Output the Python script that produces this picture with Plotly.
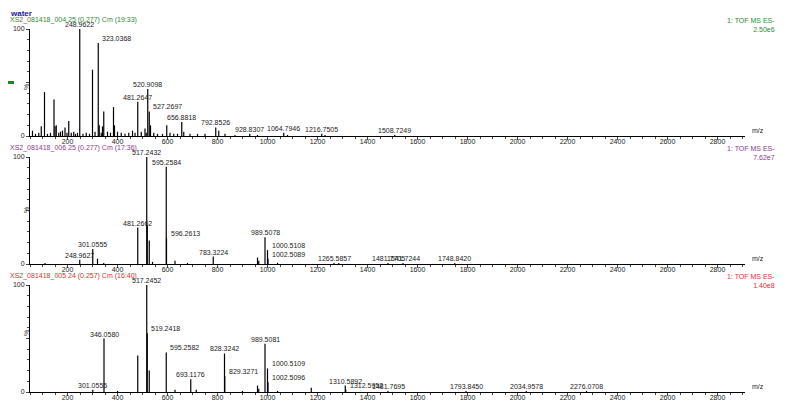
import plotly.graph_objects as go

# panel 1: water 004
mz1 = [60, 72, 85, 95, 108, 120, 132, 146, 150, 155, 165, 172, 180, 190, 198, 205, 215, 225, 232, 240,
       249, 262, 275, 288, 300, 310, 323, 327, 335, 340, 345, 360, 372, 384, 388, 400, 415, 430, 445,
       460, 470, 481, 495, 510, 515, 521, 527, 532, 545, 560, 580, 597, 610, 625, 640, 657, 665, 690,
       720, 750, 793, 805, 830, 870, 929, 960, 1065, 1080, 1217, 1230, 1509]
int1 = [5, 2, 3, 9, 41, 2, 3, 34, 9, 10, 3, 4, 5, 8, 3, 14, 3, 4, 2, 3,
        100, 2, 3, 2, 62, 4, 87, 10, 3, 9, 23, 4, 3, 27, 10, 4, 3, 2, 3,
        5, 3, 32, 4, 7, 3, 44, 23, 10, 3, 2, 2, 10, 3, 2, 2, 13, 4, 2,
        2, 2, 8, 5, 2, 1, 2, 1, 3, 1, 2, 1, 1]
lab1 = {249: "248.9622", 323: "323.0368", 521: "520.9098", 481: "481.2647", 527: "527.2697",
        657: "656.8818", 793: "792.8526", 929: "928.8307", 1065: "1064.7946",
        1217: "1216.7505", 1509: "1508.7249"}

# panel 2: water 006
mz2 = [110, 249, 301, 320, 345, 481, 517, 519, 527, 540, 595, 596, 630, 680, 783, 960, 965, 990,
       1000, 1002, 1040, 1266, 1285, 1482, 1542, 1749]
int2 = [1, 4, 14, 5, 1, 34, 100, 36, 22, 2, 91, 24, 3, 1, 7, 6, 3, 25,
        13, 5, 1, 1, 1, 1, 1, 1]
lab2 = {249: "248.9627", 301: "301.0555", 481: "481.2662", 517: "517.2432", 595: "595.2584",
        596: "596.2613", 783: "783.3224", 990: "989.5078", 1000: "1000.5108",
        1002: "1002.5089", 1266: "1265.5857", 1482: "1481.7705", 1542: "1541.7244",
        1749: "1748.8420"}

# panel 3: water 005
mz3 = [301, 346, 400, 481, 517, 519, 527, 595, 630, 693, 715, 828, 829, 900, 960, 965, 990,
       1000, 1002, 1040, 1175, 1311, 1313, 1482, 1794, 2035, 2276]
int3 = [2, 50, 1, 34, 100, 55, 20, 37, 2, 12, 2, 36, 15, 1, 6, 3, 45,
        22, 9, 1, 4, 6, 2, 1, 1, 1, 1]
lab3 = {301: "301.0555", 346: "346.0580", 517: "517.2452", 519: "519.2418", 595: "595.2582",
        693: "693.1176", 828: "828.3242", 829: "829.3271", 990: "989.5081",
        1000: "1000.5109", 1002: "1002.5096", 1311: "1310.5892", 1313: "1312.5952",
        1482: "1481.7695", 1794: "1793.8450", 2035: "2034.9578", 2276: "2276.0708"}

# labels written to the right of their peak (crowded clusters)
right1 = {323, 527}
right2 = {596, 1000, 1002}
right3 = {519, 595, 829, 1000, 1002, 1313}

# the page puts the figure 8 px in from the top-left corner
OFF = 8
W, H = 787 - OFF, 413 - OFF


def px(x):
    return (x - OFF) / W


def py(y):
    return 1 - (y - OFF) / H


panels = [
    (mz1, int1, lab1, right1, "XS2_081418_004 25 (0.277) Cm (19:33)", "#2e8b2e", "2.50e6", 29, 136),
    (mz2, int2, lab2, right2, "XS2_081418_006 25 (0.277) Cm (17:36)", "#8b3a8b", "7.62e7", 157, 264),
    (mz3, int3, lab3, right3, "XS2_081418_005 24 (0.257) Cm (16:40)", "#e03030", "1.40e8", 285, 392),
]

fig = go.Figure()
FAM = "Liberation Sans, Arial"
font = dict(family=FAM, size=7, color="#222")
xdom = [px(30), px(745)]

for i, (mz, inten, labs, right, head, col, scale, ytop, ybot) in enumerate(panels):
    n = "" if i == 0 else str(i + 1)
    xs, ys = [], []
    for m, v in zip(mz, inten):
        xs += [m, m, None]
        ys += [0, v, None]
    fig.add_trace(go.Scatter(x=xs, y=ys, mode="lines", line=dict(color="black", width=1.2),
                             xaxis="x" + n, yaxis="y" + n, showlegend=False, hoverinfo="skip"))
    fig.update_layout(**{
        "xaxis" + n: dict(domain=xdom, range=[50, 2910], anchor="y" + n, showgrid=False,
                          automargin=False, zeroline=False, showline=True, linecolor="black",
                          linewidth=1, ticks="outside", ticklen=3, ticklabelstandoff=-4,
                          tickvals=list(range(200, 2801, 200)), tickfont=font,
                          minor=dict(ticks="outside", ticklen=2, dtick=50)),
        "yaxis" + n: dict(domain=[py(ybot), py(ytop)], range=[0, 100], anchor="x" + n,
                          automargin=False, showgrid=False, zeroline=False, showline=True,
                          linecolor="black", linewidth=1, ticks="outside", ticklen=3,
                          tickvals=[0, 50, 100], ticktext=["0", "", "100"], tickfont=font,
                          minor=dict(ticks="outside", ticklen=2, dtick=10)),
    })
    for m, t in labs.items():
        v = inten[mz.index(m)]
        r = m in right
        fig.add_annotation(x=m, y=v, xref="x" + n, yref="y" + n, text=t, showarrow=False,
                           yanchor="bottom", xanchor="left" if r else "center",
                           xshift=2 if r else 0, yshift=-1, font=font)
    fig.add_annotation(x=px(8), y=py(ytop - 9), xref="paper", yref="paper", text=head,
                       showarrow=False, xanchor="left", yanchor="middle",
                       font=dict(family=FAM, size=7, color=col))
    fig.add_annotation(x=px(777), y=py(ytop - 14), xref="paper", yref="paper",
                       text="1: TOF MS ES-<br>" + scale, showarrow=False, xanchor="right",
                       yanchor="top", align="right",
                       font=dict(family=FAM, size=7, color=col))
    fig.add_annotation(x=px(21), y=py((ytop + ybot) / 2), xref="paper", yref="paper",
                       text="%", textangle=-90, showarrow=False,
                       font=dict(family=FAM, size=7, color="#444"))
    fig.add_annotation(x=px(750), y=py(ybot), xref="paper", yref="paper", text="m/z",
                       showarrow=False, xanchor="left", yanchor="bottom", font=font)

fig.add_annotation(x=px(8), y=py(8), xref="paper", yref="paper", text="<b>water</b>",
                   showarrow=False, xanchor="left", yanchor="top", yshift=1,
                   font=dict(family=FAM, size=8, color="#1a1aa0"))
fig.add_shape(type="rect", xref="paper", yref="paper", x0=px(8), x1=px(14),
              y0=py(84), y1=py(81), fillcolor="#1a8a1a", line_width=0)

fig.update_layout(width=W, height=H, margin=dict(l=0, r=0, t=0, b=0),
                  paper_bgcolor="white", plot_bgcolor="white")
fig.write_html("out.html")
